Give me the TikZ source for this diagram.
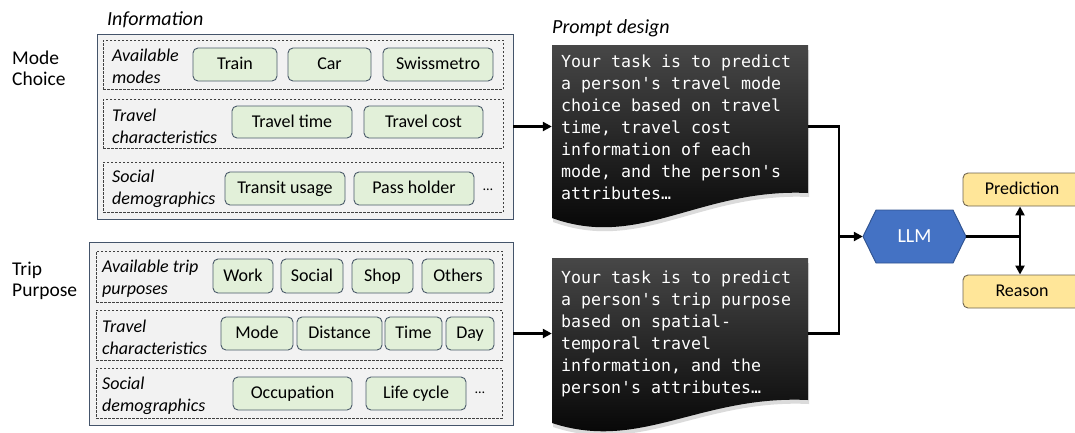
\documentclass[tikz,border=0pt]{standalone}
\usepackage{fontspec}
\setmainfont{Carlito}
\setmonofont{DejaVu Sans Mono}
\usetikzlibrary{arrows.meta,calc}
\definecolor{boxfill}{HTML}{F2F2F2}
\definecolor{boxline}{HTML}{44546A}
\definecolor{greenfill}{HTML}{E2F0D9}
\definecolor{greenline}{HTML}{4A5A6A}
\definecolor{llmfill}{HTML}{4472C4}
\definecolor{llmline}{HTML}{2F528F}
\definecolor{yelfill}{HTML}{FFE699}
\definecolor{yelline}{HTML}{6E6450}
\definecolor{docgray}{HTML}{474747}
\begin{document}
\begin{tikzpicture}[x=1pt,y=-1pt,
  outerbox/.style={draw=boxline, fill=boxfill, line width=0.9pt, inner sep=0},
  dashbox/.style={draw=black!75, dash pattern=on 2.5pt off 1.5pt, line width=0.8pt, inner sep=0},
  gbox/.style={draw=greenline, fill=greenfill, rounded corners=5pt, line width=0.9pt,
    font=\fontsize{18}{21}\selectfont, text height=13pt, text depth=3pt, inner sep=0},
  cat/.style={font=\itshape\fontsize{18}{22}\selectfont, align=left, anchor=west, inner sep=0},
  side/.style={font=\fontsize{19.5}{21}\selectfont, align=left, anchor=west, inner sep=0},
  head/.style={font=\itshape\fontsize{20}{24}\selectfont, anchor=base west, inner sep=0},
  dots/.style={font=\fontsize{14}{16}\selectfont, inner sep=0},
  doctext/.style={font=\ttfamily\fontsize{16.6}{22}\selectfont, text=white, align=left, anchor=north west, inner sep=0},
  docarea/.style={inner sep=0, minimum width=256},
  docshape/.style={top color=docgray, middle color=black, bottom color=black},
  docshadow/.style={fill=black!14},
  llmnode/.style={inner sep=0, minimum width=103, minimum height=53, text=white, font=\fontsize{20}{24}\selectfont},
  ybox/.style={draw=yelline, fill=yelfill, rounded corners=5pt, line width=0.9pt, minimum width=118, minimum height=33,
    inner sep=0, font=\fontsize{18}{21}\selectfont, text height=13pt, text depth=3pt},
  conn/.style={line width=2.5pt, black},
  tip/.style={-{Triangle[length=9pt,width=9pt]}},
  tips/.style={{Triangle[length=9pt,width=9pt]}-{Triangle[length=9pt,width=9pt]}}
]
\useasboundingbox (0,0) rectangle (1075,432);

% headings
\node[head] (hinfo) at (107,25) {Information};
\node[head] (hprompt) at (552,33) {Prompt design};
\node[side] (mc) at (12,68) {Mode\\Choice};
\node[side] (tp) at (12,281) {Trip\\Purpose};

% ---------- top information block ----------
\node[outerbox, minimum width=416, minimum height=185] (info1) at (305,126.5) {};
\node[dashbox, minimum width=400, minimum height=49] (r1) at (303,64.5) {};
\node[dashbox, minimum width=400, minimum height=49] (r2) at (303,123.5) {};
\node[dashbox, minimum width=400, minimum height=50] (r3) at (303,187) {};
\node[cat] (c1) at (112,66) {Available\\modes};
\node[cat] (c2) at (112,126) {Travel\\characteristics};
\node[cat] (c3) at (112,189) {Social\\demographics};
\node[gbox, minimum width=84, minimum height=33] (train) at (235,64.5) {Train};
\node[gbox, minimum width=83, minimum height=33] (car) at (329.5,64.5) {Car};
\node[gbox, minimum width=110, minimum height=33] (swiss) at (438,64.5) {Swissmetro};
\node[gbox, minimum width=120, minimum height=32] (ttime) at (292,122) {Travel time};
\node[gbox, minimum width=119, minimum height=32] (tcost) at (423.5,122) {Travel cost};
\node[gbox, minimum width=120, minimum height=33] (transit) at (285,188.5) {Transit usage};
\node[gbox, minimum width=120, minimum height=33] (pass) at (414,188.5) {Pass holder};
\node[dots] (d1) at (488,190) {…};

% ---------- bottom information block ----------
\node[outerbox, minimum width=424, minimum height=183] (info2) at (301,333.5) {};
\node[dashbox, minimum width=406, minimum height=51] (s1) at (299,276.5) {};
\node[dashbox, minimum width=406, minimum height=50] (s2) at (299,335) {};
\node[dashbox, minimum width=406, minimum height=50] (s3) at (299,393) {};
\node[cat, anchor=west] (e1) at (102,279) {Available trip\\purposes};
\node[cat] (e2) at (102,337.5) {Travel\\characteristics};
\node[cat] (e3) at (102,396) {Social\\demographics};
\node[gbox, minimum width=60, minimum height=34] (work) at (243,276) {Work};
\node[gbox, minimum width=62, minimum height=34] (social) at (312,276) {Social};
\node[gbox, minimum width=61, minimum height=34] (shop) at (382.5,276) {Shop};
\node[gbox, minimum width=72, minimum height=34] (others) at (458,276) {Others};
\node[gbox, minimum width=72, minimum height=33] (mode) at (257,333.5) {Mode};
\node[gbox, minimum width=85, minimum height=33] (dist) at (339.5,333.5) {Distance};
\node[gbox, minimum width=57, minimum height=33] (time) at (413.5,333.5) {Time};
\node[gbox, minimum width=48, minimum height=33] (day) at (470,333.5) {Day};
\node[gbox, minimum width=119, minimum height=33] (occ) at (292.5,393.5) {Occupation};
\node[gbox, minimum width=100, minimum height=33] (life) at (416,393.5) {Life cycle};
\node[dots] (d2) at (480,393) {…};

% ---------- prompt documents ----------
\fill[docshadow] (553,50) -- (809,50) -- (809,197) .. controls (701,192) and (641,254) .. (553,222) -- cycle;
\path[docshape] (552,45) -- (808,45) -- (808,193) .. controls (700,188) and (640,250) .. (552,218) -- cycle;
\fill[docshadow] (553,263) -- (809,263) -- (809,404) .. controls (701,399) and (641,456) .. (553,427) -- cycle;
\path[docshape] (552,258) -- (808,258) -- (808,400) .. controls (700,395) and (640,452) .. (552,423) -- cycle;
\node[docarea, minimum height=174] (doc1) at (680,132) {};
\node[docarea, minimum height=166] (doc2) at (680,341) {};
\node[doctext] (t1) at (561,54.5) {Your task is to predict\\a person's travel mode\\choice based on travel\\time, travel cost\\information of each\\mode, and the person's\\attributes…};
\node[doctext] (t2) at (561,270.5) {Your task is to predict\\a person's trip purpose\\based on spatial-\\temporal travel\\information, and the\\person's attributes…};

% ---------- LLM and outputs ----------
\filldraw[fill=llmfill, draw=llmline, line width=0.9pt] (863,236.5) -- (876,210) -- (953,210) -- (966,236.5) -- (953,263) -- (876,263) -- cycle;
\node[llmnode] (llm) at (914.5,236.5) {LLM};
\node[ybox] (pred) at (1022,189.5) {Prediction};
\node[ybox] (reason) at (1022,291.5) {Reason};

% ---------- connectors ----------
\coordinate (brk) at (839,236.5);
\coordinate (split) at (1020,236.5);
\draw[conn, tip] (info1.east) -- (info1.east -| doc1.west);
\draw[conn, tip] (info2.east) -- (info2.east -| doc2.west);
\draw[conn] (info1.east -| doc1.east) -| (brk) |- (info2.east -| doc2.east);
\draw[conn, tip] (brk) -- (llm.west);
\draw[conn] (llm.east) -- (split);
\draw[conn, tips] (pred.south -| split) -- (reason.north -| split);
\end{tikzpicture}
\end{document}
